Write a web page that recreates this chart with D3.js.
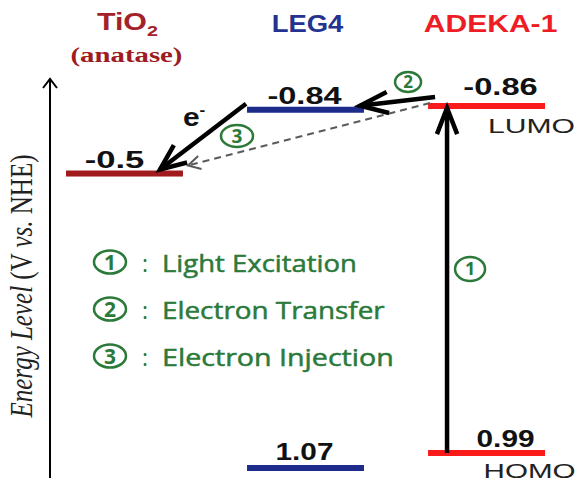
<!DOCTYPE html>
<html>
<head>
<meta charset="utf-8">
<script src="https://cdn.jsdelivr.net/npm/d3@7"></script>
<style>
  body { margin: 0; background: #fff; }
  svg { display: block; }
</style>
</head>
<body>
<div id="chart"></div>
<script>
// energy levels (V vs. NHE)
const materials = ["TiO2", "LEG4", "ADEKA-1"];
const lumo = [-0.5, -0.84, -0.86];
const homo = [null, 1.07, 0.99];
const steps = ["Light Excitation", "Electron Transfer", "Electron Injection"];
const stepNums = ["1", "2", "3"];

const titleColors = ["#a3222a", "#24338f", "#ee1c24"];
const barColors = ["#a11a1e", "#1d2b8a", "#fb1a1a"];
const green = "#2b7a3a";

const W = 587, H = 484;
const svg = d3.select("#chart").append("svg")
    .attr("width", W)
    .attr("height", H);

const x = d3.scaleBand()
    .domain(materials)
    .range([66, 545])
    .paddingInner(0.354)
    .paddingOuter(0);
const bw = x.bandwidth();

const y = d3.scaleLinear()
    .domain([-0.86, 0.99])
    .range([106, 453]);

// text squeezed/stretched to the width seen in the picture
function label(txt, cx, by, w, o) {
    const t = svg.append("text")
        .attr("text-anchor", o.anchor || "middle")
        .attr("font-family", o.font || "'Liberation Sans', Arial, sans-serif")
        .attr("font-size", o.size)
        .attr("font-weight", o.weight || "normal")
        .attr("fill", o.color || "#000")
        .attr("stroke", o.stroke ? o.color : null)
        .attr("stroke-width", o.stroke || null)
        .text(txt);
    const len = t.node().getBBox().width;
    t.attr("transform", `translate(${cx},${by}) scale(${w / len},1)`);
    return t;
}

function arrow(x1, y1, x2, y2, o) {
    const g = svg.append("g")
        .attr("stroke", o.color || "#000")
        .attr("stroke-width", o.width)
        .attr("fill", "none");
    g.append("line")
        .attr("x1", x1).attr("y1", y1)
        .attr("x2", x2).attr("y2", y2)
        .attr("stroke-dasharray", o.dash || null);
    const a = Math.atan2(y1 - y2, x1 - x2), ang = o.ang || 0.38, L = o.head;
    g.append("path")
        .attr("stroke-linejoin", "miter")
        .attr("d", `M${x2 + L * Math.cos(a - ang)},${y2 + L * Math.sin(a - ang)}L${x2},${y2}L${x2 + L * Math.cos(a + ang)},${y2 + L * Math.sin(a + ang)}`);
}

function circled(n, cx, cy, rx, ry, fs) {
    svg.append("ellipse")
        .attr("cx", cx).attr("cy", cy)
        .attr("rx", rx).attr("ry", ry)
        .attr("fill", "none")
        .attr("stroke", green)
        .attr("stroke-width", 2.5);
    svg.append("text")
        .attr("x", cx).attr("y", cy + fs * 0.36)
        .attr("text-anchor", "middle")
        .attr("font-family", "'Open Sans', sans-serif")
        .attr("font-weight", "bold")
        .attr("font-size", fs)
        .attr("fill", green)
        .text(n);
}

// vertical energy axis
svg.append("line")
    .attr("x1", 50).attr("x2", 50)
    .attr("y1", 79).attr("y2", 478)
    .attr("stroke", "#000").attr("stroke-width", 2);
svg.append("path")
    .attr("d", "M43,88L50,79L57,88")
    .attr("fill", "none").attr("stroke", "#000").attr("stroke-width", 2);

const ax = svg.append("text")
    .attr("text-anchor", "middle")
    .attr("font-family", "'Liberation Serif', 'Times New Roman', serif")
    .attr("font-size", 25)
    .attr("fill", "#222")
    .attr("transform", "translate(32,286) rotate(-90) scale(1,1.25)");
ax.append("tspan").attr("font-style", "italic").text("Energy Level");
ax.append("tspan").text(" (V ");
ax.append("tspan").attr("font-style", "italic").text("vs.");
ax.append("tspan").text(" NHE)");

// column titles
const tio = svg.append("text")
    .attr("text-anchor", "middle")
    .attr("font-family", "'Liberation Sans', Arial, sans-serif")
    .attr("font-weight", "bold")
    .attr("font-size", 23)
    .attr("fill", titleColors[0]);
tio.append("tspan").text("TiO");
tio.append("tspan").attr("font-size", 15).attr("dy", 6).text("2");
const tlen = tio.node().getBBox().width;
tio.attr("transform", `translate(${x(materials[0]) + bw / 2 + 3},30) scale(${61 / tlen},1)`);

label("(anatase)", x(materials[0]) + bw / 2 + 2, 62, 112,
    { size: 20, weight: "bold", color: "#9e1b22", font: "'Liberation Serif', 'Times New Roman', serif" });
label(materials[1], x(materials[1]) + bw / 2 + 2, 32, 72, { size: 23, weight: "bold", color: titleColors[1] });
label(materials[2], x(materials[2]) + bw / 2 + 4, 32, 134, { size: 23, weight: "bold", color: titleColors[2] });

// level bars
const levels = [];
materials.forEach((m, i) => {
    levels.push({ m: m, v: lumo[i], c: barColors[i], kind: "LUMO" });
    if (homo[i] !== null) levels.push({ m: m, v: homo[i], c: barColors[i], kind: "HOMO" });
});

svg.selectAll("rect.level")
    .data(levels)
    .enter()
    .append("rect")
    .attr("class", "level")
    .attr("x", d => x(d.m))
    .attr("y", d => y(d.v) - 3)
    .attr("width", bw)
    .attr("height", 6)
    .attr("fill", d => d.c);

// value labels
const valueDx = { "TiO2": -10, "LEG4": -1, "ADEKA-1": 14 };
const valueDy = { "TiO2": 6, "LEG4": 6, "ADEKA-1": 11 };
levels.forEach(d => {
    const s = String(d.v);
    const w = s.length * 14.5 + (s[0] === "-" ? 2 : 0);
    const dx = d.m === "ADEKA-1" && d.kind === "HOMO" ? 19 : valueDx[d.m];
    const dy = d.kind === "HOMO" ? (d.m === "LEG4" ? 8 : 6) : valueDy[d.m];
    label(s, x(d.m) + bw / 2 + dx, y(d.v) - dy, w, { size: 23, weight: "bold", color: "#111" });
});

label("LUMO", x(materials[2]) + bw / 2 + 45, y(lumo[2]) + 27, 87, { size: 21, color: "#222" });
label("HOMO", x(materials[2]) + bw / 2 + 43, y(homo[2]) + 25, 92, { size: 21, color: "#222" });

// 1: light excitation (HOMO -> LUMO of ADEKA-1)
const ex = x(materials[2]) + 19;
arrow(ex, y(homo[2]), ex, y(lumo[2]) + 2, { width: 4.5, head: 28, ang: 0.37 });
circled(stepNums[0], ex + 23, 269, 15, 12, 18);

// 3: electron injection (dashed, ADEKA-1 -> TiO2)
arrow(x(materials[2]) + 2, y(lumo[2]) - 3, x(materials[0]) + bw + 5, y(lumo[0]) - 8,
    { width: 2, head: 14, ang: 0.5, color: "#5a5a5a", dash: "7,5" });
circled(stepNums[2], 237, 136, 16, 11, 19);

// 2: electron transfer (ADEKA-1 -> LEG4)
arrow(x(materials[2]) + 7, y(lumo[2]) - 9, x(materials[1]) + bw - 4, y(lumo[1]) - 4,
    { width: 4.5, head: 30, ang: 0.36 });
circled(stepNums[1], x(materials[2]) - 20, 82, 13, 10, 17);

// e- into TiO2
arrow(x(materials[1]) - 1, y(lumo[1]) - 6, x(materials[0]) + 94, y(lumo[0]) - 4,
    { width: 4.5, head: 28, ang: 0.4 });
const el = svg.append("text")
    .attr("font-family", "'Liberation Sans', Arial, sans-serif")
    .attr("font-weight", "bold")
    .attr("font-size", 26)
    .attr("fill", "#111")
    .attr("transform", "translate(183,126) scale(1.15,1)");
el.append("tspan").text("e");
el.append("tspan").attr("font-size", 15).attr("dy", -11).text("-");

// legend
steps.forEach((s, i) => {
    const by = 272 + i * 47;
    circled(stepNums[i], 110, by - 10, 16, 11.5, 21);
    svg.append("text")
        .attr("x", 142).attr("y", by)
        .attr("font-family", "'Open Sans', sans-serif")
        .attr("font-size", 23)
        .attr("fill", green)
        .text(":");
    label(s, 162, by, [195, 223, 232][i],
        { size: 24, anchor: "start", font: "'Open Sans', sans-serif", color: green, stroke: 0.5 });
});
</script>
</body>
</html>
